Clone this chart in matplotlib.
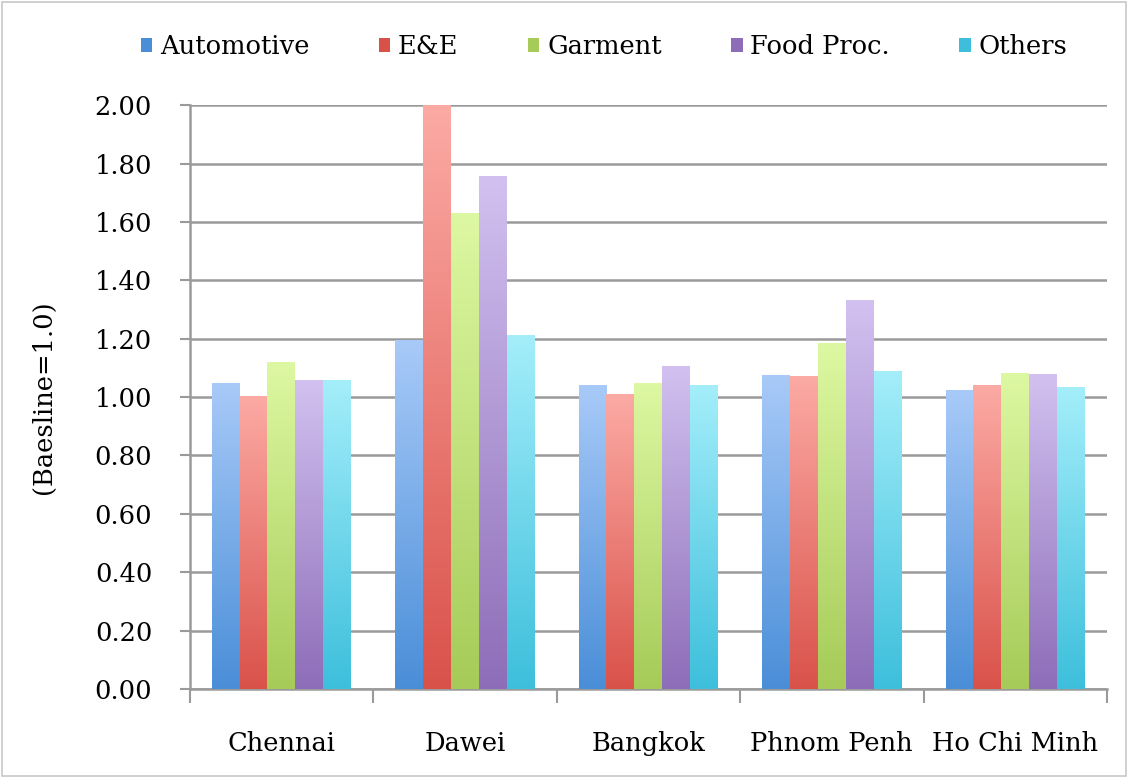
import matplotlib
matplotlib.use("Agg")
import matplotlib.pyplot as plt
import numpy as np
from matplotlib.colors import LinearSegmentedColormap
from matplotlib.patches import Rectangle

cities = ["Chennai", "Dawei", "Bangkok", "Phnom Penh", "Ho Chi Minh"]
series = ["Automotive", "E&E", "Garment", "Food Proc.", "Others"]
automotive = [1.045, 1.195, 1.038, 1.075, 1.024]
ee = [1.003, 2.00, 1.010, 1.072, 1.038]
garment = [1.120, 1.630, 1.045, 1.185, 1.082]
food = [1.058, 1.757, 1.106, 1.332, 1.079]
others = [1.058, 1.212, 1.041, 1.089, 1.034]
yticks = [0.0, 0.2, 0.4, 0.6, 0.8, 1.0, 1.2, 1.4, 1.6, 1.8, 2.0]

values = [automotive, ee, garment, food, others]
bottoms = ["#4a8ed8", "#d9524a", "#a6cb58", "#8d6db8", "#3dbfdc"]
tops = ["#a8caf8", "#fcaaa4", "#ddf8a2", "#d2c1f0", "#a4eefa"]

FS = 18.5
plt.rcParams["font.family"] = ["DejaVu Serif"]
fig = plt.figure(figsize=(11.29, 7.79), dpi=100)
ax = fig.add_axes([0.168, 0.1155, 0.8125, 0.7495])

n = len(series)
group_w = 0.76
bw = group_w / n
xs = np.arange(len(cities))

for i in range(n):
    cmap = LinearSegmentedColormap.from_list("g%d" % i, [bottoms[i], tops[i]])
    grad = np.linspace(0, 1, 256).reshape(-1, 1)
    for j, v in enumerate(values[i]):
        x0 = xs[j] - group_w / 2 + i * bw
        ax.imshow(grad, extent=(x0, x0 + bw, 0, v), origin="lower", cmap=cmap,
                  aspect="auto", zorder=3, interpolation="bilinear")
    ax.bar([0], [0], color=bottoms[i], label=series[i])

ax.set_xlim(-0.5, len(cities) - 0.5)
ax.set_ylim(0, 2.0)
ax.set_aspect("auto")

ax.set_yticks(yticks)
ax.set_yticklabels(["%.2f" % t for t in yticks], fontsize=FS)
ax.yaxis.grid(True, color="#9a9a9a", linewidth=1.8, zorder=0)
ax.set_axisbelow(True)

ax.set_xticks(np.arange(-0.5, len(cities), 1.0))
ax.set_xticklabels([])
ax.set_xticks(xs, minor=True)
ax.set_xticklabels(cities, minor=True, fontsize=FS)
ax.tick_params(axis="x", which="minor", length=0, pad=30)
ax.tick_params(axis="x", which="major", length=10, color="#9a9a9a", width=1.5)
ax.tick_params(axis="y", length=7, color="#9a9a9a", width=1.5, pad=20)

for s in ["top", "right"]:
    ax.spines[s].set_visible(False)
for s in ["left", "bottom"]:
    ax.spines[s].set_color("#9a9a9a")
    ax.spines[s].set_linewidth(1.8)

ax.set_ylabel("(Baesline=1.0)", fontsize=FS, labelpad=28)

leg = fig.legend(loc="center", bbox_to_anchor=(0.535, 0.94), ncol=5, frameon=False,
                 fontsize=FS, handlelength=0.45, handleheight=0.45, columnspacing=2.7,
                 handletextpad=0.3)

fig.patches.append(Rectangle((0.002, 0.004), 0.995, 0.993, transform=fig.transFigure,
                             fill=False, edgecolor="#c8c8c8", linewidth=1.2))

fig.savefig("out.png", dpi=100)
